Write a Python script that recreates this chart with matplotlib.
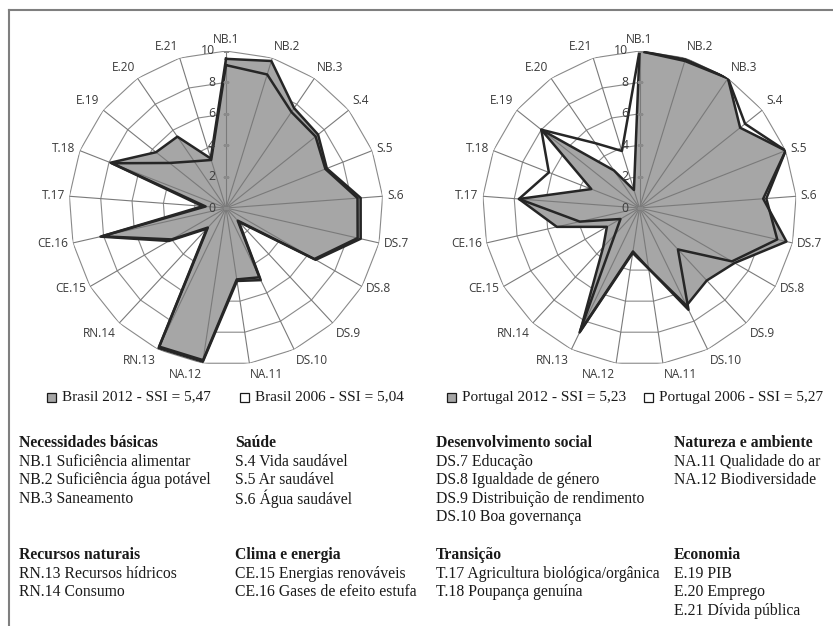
import numpy as np
import matplotlib
matplotlib.use('Agg')
import matplotlib.pyplot as plt
from matplotlib.lines import Line2D
from matplotlib.patches import Rectangle

# indicator axes (clockwise from top)
labels = ['NB.1', 'NB.2', 'NB.3', 'S.4', 'S.5', 'S.6', 'DS.7', 'DS.8', 'DS.9', 'DS.10',
          'NA.11', 'NA.12', 'RN.13', 'RN.14', 'CE.15', 'CE.16', 'T.17', 'T.18',
          'E.19', 'E.20', 'E.21']

brasil_2012 = [9.5, 9.8, 7.7, 7.5, 6.9, 8.6, 8.8, 6.6, 1.2, 5.1, 4.7, 9.9, 9.9,
               1.8, 4.2, 8.2, 1.5, 7.9, 5.7, 5.5, 3.3]
brasil_2006 = [9.1, 8.9, 7.4, 7.3, 6.8, 8.4, 8.6, 6.5, 1.1, 4.9, 4.6, 9.8, 9.8,
               1.7, 4.0, 8.1, 1.3, 7.8, 4.6, 3.6, 3.2]
portugal_2012 = [10, 9.9, 10, 8.2, 10, 7.9, 9.6, 7.0, 6.3, 6.9, 3.9, 2.8, 8.7,
                 3.4, 2.4, 5.4, 7.7, 3.3, 8.0, 2.9, 1.2]
portugal_2006 = [10, 9.8, 10, 8.6, 10, 8.1, 9.0, 6.8, 3.6, 7.2, 3.9, 2.9, 8.8,
                 2.3, 1.4, 3.9, 7.7, 6.2, 8.0, 5.0, 3.8]

legend_brasil = ['Brasil 2012 - SSI = 5,47', 'Brasil 2006 - SSI = 5,04']
legend_portugal = ['Portugal 2012 - SSI = 5,23', 'Portugal 2006 - SSI = 5,27']

radial_ticks = [0, 2, 4, 6, 8, 10]

groups = [
    ('Necessidades básicas', ['NB.1 Suficiência alimentar', 'NB.2 Suficiência água potável', 'NB.3 Saneamento']),
    ('Saúde', ['S.4 Vida saudável', 'S.5 Ar saudável', 'S.6 Água saudável']),
    ('Desenvolvimento social', ['DS.7 Educação', 'DS.8 Igualdade de género',
                                'DS.9 Distribuição de rendimento', 'DS.10 Boa governança']),
    ('Natureza e ambiente', ['NA.11 Qualidade do ar', 'NA.12 Biodiversidade']),
    ('Recursos naturais', ['RN.13 Recursos hídricos', 'RN.14 Consumo']),
    ('Clima e energia', ['CE.15 Energias renováveis', 'CE.16 Gases de efeito estufa']),
    ('Transição', ['T.17 Agricultura biológica/orgânica', 'T.18 Poupança genuína']),
    ('Economia', ['E.19 PIB', 'E.20 Emprego', 'E.21 Dívida pública']),
]

W, H = 833, 626
fig = plt.figure(figsize=(W / 100, H / 100), dpi=100)


def fx(px):
    return px / W


def fy(py):
    return 1 - py / H


FILL = '#a6a6a6'
EDGE = '#262626'
GRID = '#8a8a8a'
TXT = '#3a3a3a'
LABEL_FONT = 'Open Sans'
SERIF = 'Liberation Serif'

n = len(labels)
angles = np.arange(n) * 2 * np.pi / n
closed = np.append(angles, angles[0])


def radar(cx, cy, R, s2012, s2006):
    ax = fig.add_axes([fx(cx - R), fy(cy + R), 2 * R / W, 2 * R / H], projection='polar')
    ax.set_theta_zero_location('N')
    ax.set_theta_direction(-1)
    ax.set_ylim(0, 10)
    ax.grid(False)
    ax.set_xticks([])
    ax.set_yticks([])
    ax.spines['polar'].set_visible(False)
    ax.patch.set_alpha(0)

    # polygon rings
    for v in radial_ticks[1:]:
        ax.plot(closed, [v] * (n + 1), color=GRID, lw=0.8, zorder=1)

    # series 2012 filled
    v12 = np.append(s2012, s2012[0])
    ax.fill(closed, v12, color=FILL, lw=0, zorder=2)

    # spokes
    for a in angles:
        ax.plot([a, a], [0, 10], color='#7a7a7a', lw=0.8, zorder=3)

    ax.plot(closed, v12, color=EDGE, lw=1.8, zorder=4)
    v06 = np.append(s2006, s2006[0])
    ax.plot(closed, v06, color=EDGE, lw=1.8, zorder=5)

    # value axis labels
    ax.plot([0] * len(radial_ticks), radial_ticks, ls='none', marker='_', ms=5,
            color=GRID, zorder=6)
    for v in radial_ticks:
        ax.annotate(str(v), (0, v), xytext=(-8, 0), textcoords='offset points',
                    ha='right', va='center', fontsize=8.8, family=LABEL_FONT,
                    color=TXT, zorder=7)

    # category labels
    for a, lab in zip(angles, labels):
        s, c = np.sin(a), np.cos(a)
        ha = 'left' if s > 0.1 else ('right' if s < -0.1 else 'center')
        va = 'bottom' if c > 0.55 else ('top' if c < -0.6 else 'center')
        ax.text(a, 10.3, lab, ha=ha, va=va, fontsize=8.6, family=LABEL_FONT,
                color=TXT, clip_on=False)
    return ax


R = 157
radar(226, 208, R, brasil_2012, brasil_2006)
radar(639.5, 208, R, portugal_2012, portugal_2006)


# legends
def legend_item(x, y, text, filled):
    fig.add_artist(Rectangle((fx(x), fy(y + 4.5)), 9 / W, 9 / H,
                             transform=fig.transFigure,
                             facecolor=FILL if filled else 'white',
                             edgecolor='#1a1a1a', lw=0.9))
    fig.text(fx(x + 15), fy(y), text, ha='left', va='center', fontsize=11,
             family=SERIF, color='#1a1a1a')


legend_item(47, 397, legend_brasil[0], True)
legend_item(240, 397, legend_brasil[1], False)
legend_item(447, 397, legend_portugal[0], True)
legend_item(644, 397, legend_portugal[1], False)

# indicator glossary
block_pos = [(19, 443), (235, 443), (436, 443), (674, 443),
             (19, 555), (235, 555), (436, 555), (674, 555)]
line_h = 18.6
for (x, y), (head, items) in zip(block_pos, groups):
    fig.text(fx(x), fy(y), head, ha='left', va='center', fontsize=11.3,
             family=SERIF, weight='bold', color='#1a1a1a')
    for i, it in enumerate(items):
        fig.text(fx(x), fy(y + line_h * (i + 1)), it, ha='left', va='center',
                 fontsize=11.3, family=SERIF, color='#1a1a1a')

# frame
fig.add_artist(Line2D([fx(9), 1], [fy(10), fy(10)], transform=fig.transFigure,
                      color='#7f7f7f', lw=1.5))
fig.add_artist(Line2D([fx(9), fx(9)], [fy(10), 0], transform=fig.transFigure,
                      color='#7f7f7f', lw=1.5))

fig.savefig('out.png', dpi=100)
